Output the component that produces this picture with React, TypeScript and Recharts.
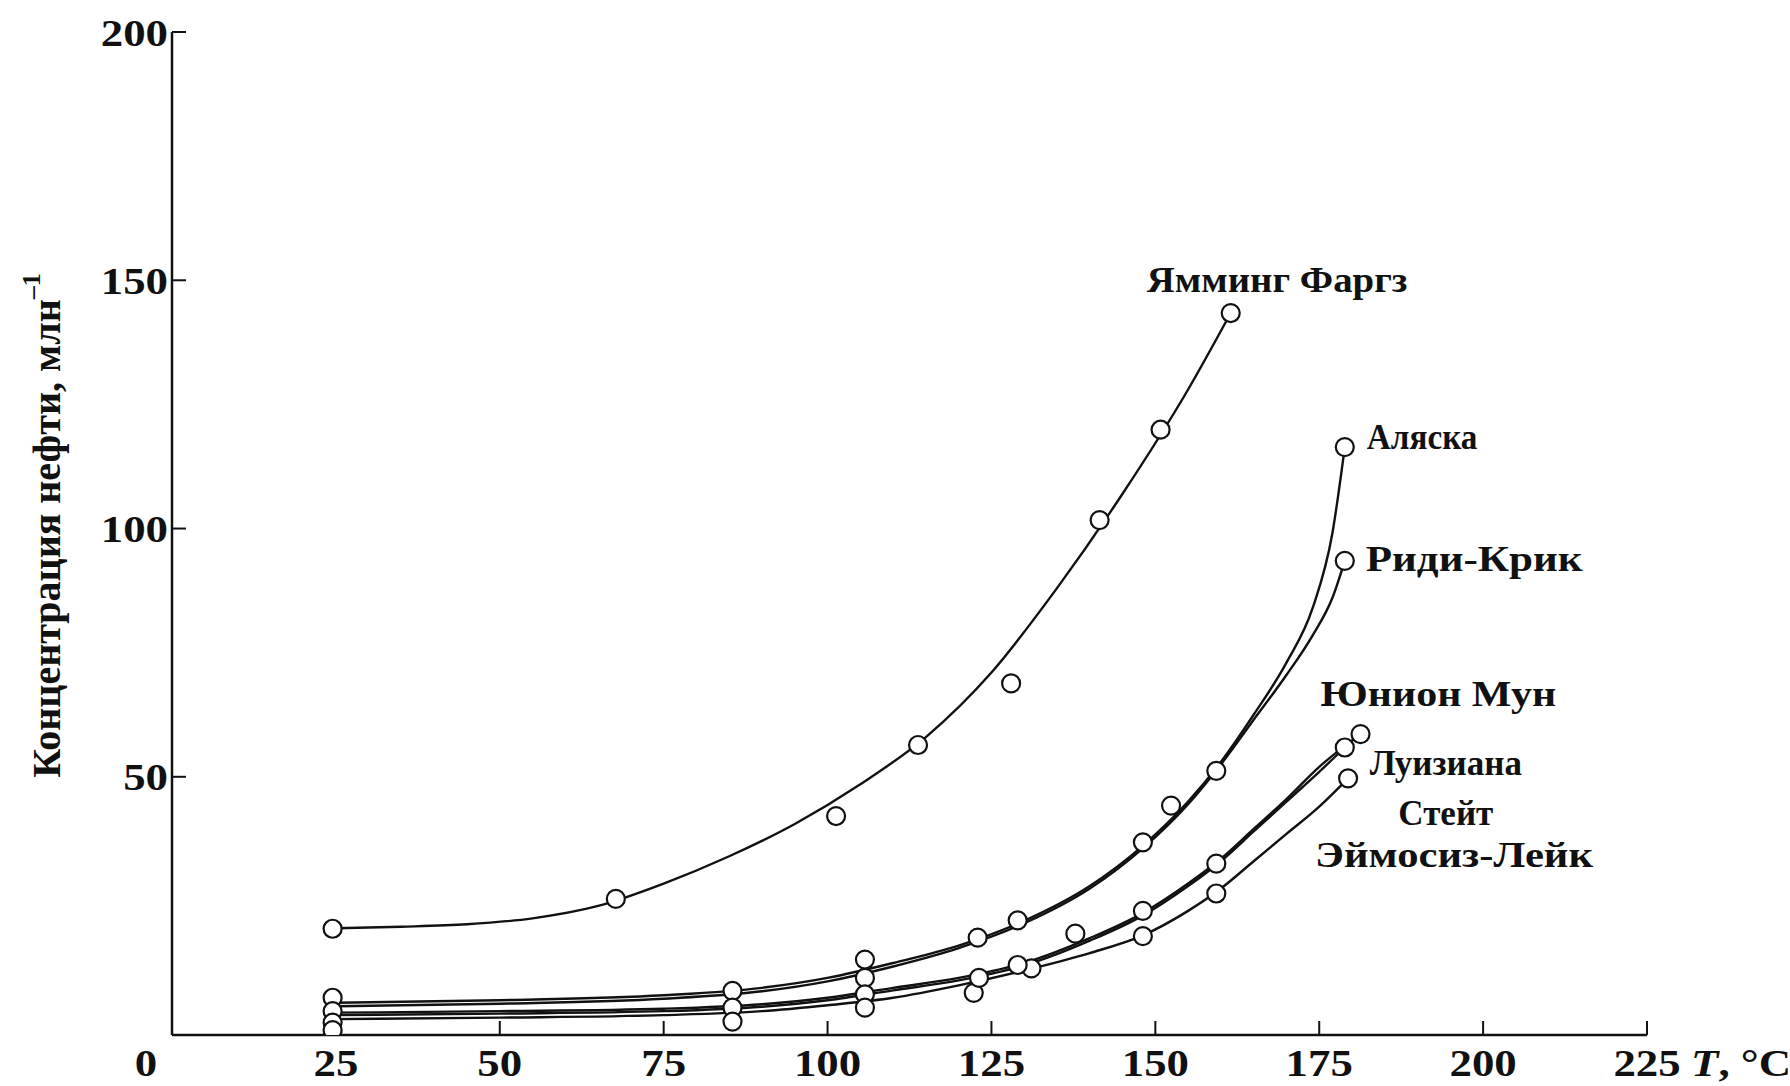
import { ComposedChart, Line, Scatter, XAxis, YAxis, LabelList } from "recharts";

const xTicks = [0, 25, 50, 75, 100, 125, 150, 175, 200, 225];
const yTicks = [50, 100, 150, 200];

// measured points [T, C]
const yamingPoints = [[24.5, 19.4], [67.7, 25.4], [101.3, 42.1], [113.8, 56.4], [128, 68.8], [141.5, 101.7], [150.8, 119.9], [161.5, 143.4]];
const alaskaPoints = [[24.5, 5.5], [85.5, 6.9], [105.7, 13.2], [129, 21.1], [152.4, 44.2], [178.9, 116.4]];
const ridiPoints = [[24.5, 2.8], [105.7, 9.5], [122.9, 17.6], [148.1, 36.8], [159.3, 51.2], [178.9, 93.5]];
const unionPoints = [[24.5, 0.5], [85.5, 3.5], [122.3, 6.5], [131.1, 11.4], [148.1, 23], [181.3, 58.6]];
const louisianaPoints = [[24.5, -1], [105.7, 6.2], [129, 12.1], [137.8, 18.4], [159.3, 32.5], [178.9, 55.9]];
const amosisPoints = [[85.5, 0.7], [105.7, 3.5], [123.1, 9.5], [148.1, 17.9], [159.3, 26.5], [179.4, 49.7]];

// fitted curves [T, C]
const yamingCurve = [[25, 19.5], [35, 19.8], [45, 20.3], [55, 21.5], [65, 24], [75, 28.5], [85, 34], [95, 40.5], [105, 48.5], [115, 58], [125, 71], [135, 88], [145, 107], [155, 128], [161.5, 143.4]];
const alaskaCurve = [[25, 4.5], [50, 5], [75, 6], [90, 7.5], [100, 9.5], [110, 12.5], [120, 16], [130, 21], [140, 28], [148, 36], [155, 45], [160, 53], [165, 62.5], [170, 73], [174, 84], [177, 99], [178.9, 116.4]];
const ridiCurve = [[25, 3.8], [50, 4.3], [75, 5.3], [90, 6.8], [100, 8.8], [110, 11.8], [120, 15.5], [130, 20.5], [140, 27.5], [148, 35.5], [155, 44.5], [160, 52.5], [165, 61.5], [170, 70.5], [174, 78.5], [177, 86], [178.9, 93.5]];
const unionCurve = [[25, 2.5], [50, 2.8], [75, 3.3], [90, 4.2], [100, 5.5], [110, 7.5], [120, 9.5], [130, 12.5], [140, 17.5], [148, 22.5], [155, 28.5], [160, 33.5], [165, 39.5], [170, 45.5], [175, 52], [181.3, 58.6]];
const louisianaCurve = [[25, 2], [50, 2.3], [75, 2.8], [90, 3.7], [100, 5], [110, 7], [120, 9], [130, 12], [140, 17], [148, 22], [155, 28], [160, 33], [165, 39], [170, 45], [175, 51], [178.9, 55.9]];
const amosisCurve = [[25, 1.2], [50, 1.5], [75, 2], [90, 2.8], [100, 4], [110, 5.5], [120, 8], [130, 11], [140, 14.5], [148, 18], [155, 23], [160, 27.5], [165, 33], [170, 38.5], [175, 44], [179.4, 49.7]];

const seriesNames = ["Ямминг Фаргз", "Аляска", "Риди-Крик", "Юнион Мун", "Луизиана Стейт", "Эймосиз-Лейк"];
const pointSets = [yamingPoints, alaskaPoints, ridiPoints, unionPoints, louisianaPoints, amosisPoints];
const curveSets = [yamingCurve, alaskaCurve, ridiCurve, unionCurve, louisianaCurve, amosisCurve];

const toRows = (pairs: number[][]) => pairs.map(([t, c]) => ({ t, c }));

const FONT = "'Liberation Serif', 'Times New Roman', serif";
const TICK_STRETCH = 1.18;

// label placement relative to the last point of each curve
const labelPos: Record<string, { dx: number; dy: number; anchor: string; sx: number; lines: string[] }> = {
  "Ямминг Фаргз": { dx: -84, dy: -33, anchor: "start", sx: 1.11, lines: ["Ямминг Фаргз"] },
  "Аляска": { dx: 22, dy: -10, anchor: "start", sx: 0.95, lines: ["Аляска"] },
  "Риди-Крик": { dx: 21, dy: -2, anchor: "start", sx: 1.23, lines: ["Риди-Крик"] },
  "Юнион Мун": { dx: -40, dy: -40, anchor: "start", sx: 1.2, lines: ["Юнион Мун"] },
  "Луизиана Стейт": { dx: 101, dy: 15, anchor: "middle", sx: 1.0, lines: ["Луизиана", "Стейт"] },
  "Эймосиз-Лейк": { dx: -33, dy: 76, anchor: "start", sx: 1.22, lines: ["Эймосиз-Лейк"] },
};

const StretchText = ({ x, y, anchor, sx, children }: any) => (
  <text
    transform={`translate(${x} ${y}) scale(${sx} 1)`}
    x={0}
    y={0}
    dy="0.36em"
    textAnchor={anchor}
    fontFamily={FONT}
    fontWeight={700}
    fontSize={38}
    fill="#111"
  >
    {children}
  </text>
);

const XTick = (props: any) => {
  const { x, y, payload } = props;
  const v = payload.value;
  if (v === 225) {
    return (
      <g>
        <StretchText x={x} y={y} anchor="middle" sx={TICK_STRETCH}>225</StretchText>
        <StretchText x={x + 44} y={y} anchor="start" sx={TICK_STRETCH}>
          <tspan fontStyle="italic">T</tspan>, °C
        </StretchText>
      </g>
    );
  }
  return (
    <StretchText x={v === 0 ? x - 26 : x} y={y} anchor="middle" sx={TICK_STRETCH}>
      {v}
    </StretchText>
  );
};

const YTick = (props: any) => {
  const { x, y, payload } = props;
  return (
    <StretchText x={x} y={y} anchor="end" sx={TICK_STRETCH}>
      {payload.value}
    </StretchText>
  );
};

const YTitle = (props: any) => {
  const vb = props.viewBox;
  const cx = vb.x + 46;
  const cy = vb.y + vb.height / 2 - 8;
  return (
    <text x={cx} y={cy} transform={`rotate(-90 ${cx} ${cy})`} textAnchor="middle" dominantBaseline="central" fontFamily={FONT} fontWeight={700} fontSize={40} fill="#111">
      Концентрация нефти, млн<tspan dy={-15} fontSize={26}>–1</tspan>
    </text>
  );
};

const Circle = (props: any) => {
  const { cx, cy } = props;
  if (cx == null || cy == null) return null;
  return <circle cx={cx} cy={cy} r={9} fill="#fff" stroke="#111" strokeWidth={2.2} />;
};

const makeEndLabel = (name: string, count: number) => (props: any) => {
  const { x, y, index } = props;
  if (index !== count - 1) return null;
  const p = labelPos[name];
  return (
    <g transform={`translate(${x + p.dx} ${y + p.dy}) scale(${p.sx} 1)`}>
      <text x={0} y={0} textAnchor={p.anchor as any} dominantBaseline="central" fontFamily={FONT} fontWeight={700} fontSize={35} fill="#111">
        {p.lines.map((l, i) => (
          <tspan key={i} x={0} dy={i === 0 ? 0 : 50}>{l}</tspan>
        ))}
      </text>
    </g>
  );
};

export default function App() {
  return (
    <div style={{ position: "absolute", left: 0, top: 0, width: 1790, height: 1086, background: "#fff" }}>
      <ComposedChart width={1790} height={1086} margin={{ top: 32, right: 143, left: 0, bottom: 0 }}>
        <XAxis
          dataKey="t"
          type="number"
          domain={[0, 225]}
          ticks={xTicks}
          allowDataOverflow
          height={51}
          tickSize={-14}
          tickMargin={41}
          tick={<XTick />}
          axisLine={{ stroke: "#111", strokeWidth: 2.5 }}
          tickLine={{ stroke: "#111", strokeWidth: 2 }}
        />
        <XAxis xAxisId="top" orientation="top" type="number" domain={[0, 225]} height={0} tick={false} tickLine={false} axisLine={{ stroke: "#111", strokeWidth: 2.5 }} />
        <YAxis
          dataKey="c"
          type="number"
          domain={[-2, 200]}
          ticks={yTicks}
          allowDataOverflow
          width={172}
          tickSize={-14}
          tickMargin={18}
          tick={<YTick />}
          axisLine={{ stroke: "#111", strokeWidth: 2.5 }}
          tickLine={{ stroke: "#111", strokeWidth: 2 }}
          label={{ content: <YTitle /> }}
        />
        <YAxis yAxisId="right" orientation="right" type="number" domain={[-2, 200]} width={0} tick={false} tickLine={false} axisLine={{ stroke: "#111", strokeWidth: 2.5 }} />
        {curveSets.map((curve, i) => (
          <Line
            key={"curve-" + i}
            data={toRows(curve)}
            dataKey="c"
            type="monotone"
            stroke="#111"
            strokeWidth={2.4}
            dot={false}
            activeDot={false}
            isAnimationActive={false}
          >
            <LabelList dataKey="c" content={makeEndLabel(seriesNames[i], curve.length)} />
          </Line>
        ))}
        {pointSets.map((pts, i) => (
          <Scatter
            key={"pts-" + i}
            name={seriesNames[i]}
            data={toRows(pts)}
            dataKey="c"
            shape={<Circle />}
            isAnimationActive={false}
          />
        ))}
      </ComposedChart>
    </div>
  );
}
